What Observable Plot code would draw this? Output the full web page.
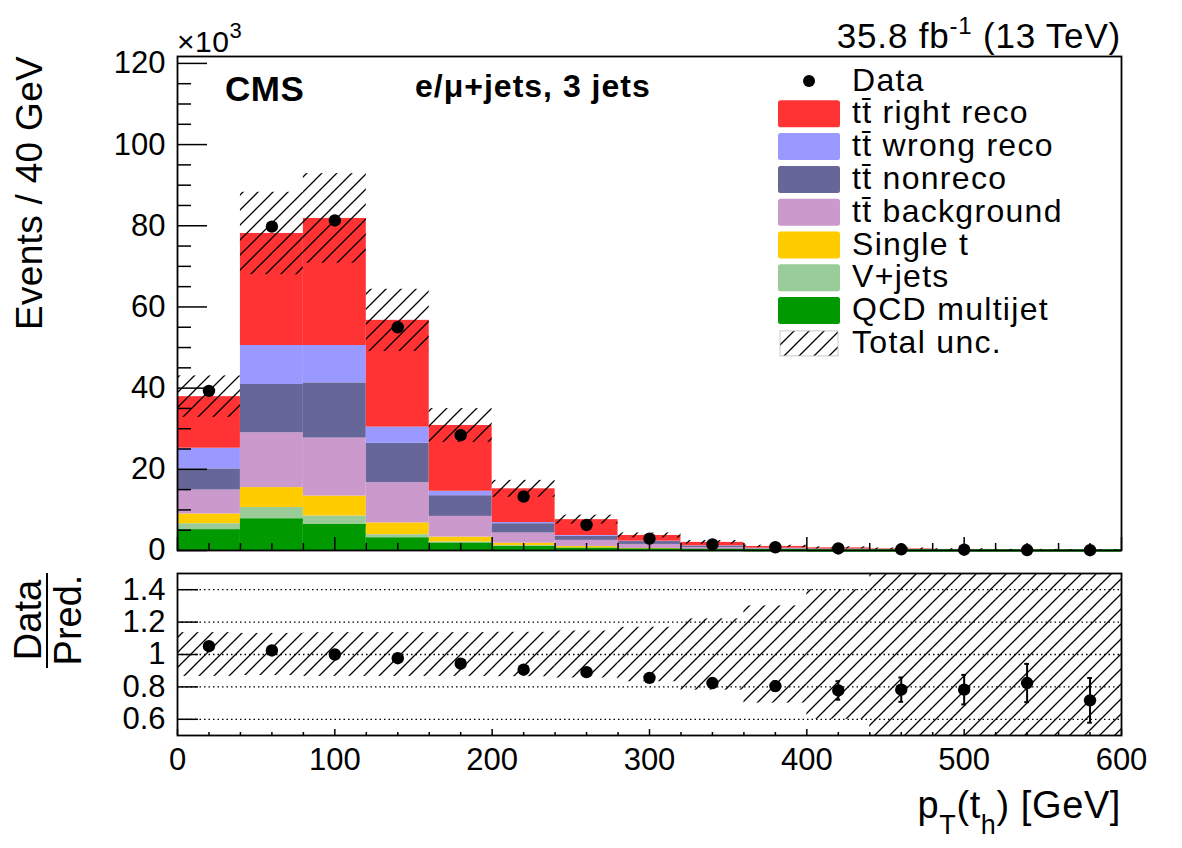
<!DOCTYPE html>
<html>
<head>
<meta charset="utf-8">
<script src="https://cdn.jsdelivr.net/npm/d3@7"></script>
<script src="https://cdn.jsdelivr.net/npm/@observablehq/plot@0.6"></script>
<style>
  html, body { margin: 0; padding: 0; background: #fff; overflow: hidden; }
  #wrap { position: relative; width: 1182px; height: 848px; }
  #wrap svg { position: absolute; left: 0; overflow: visible; }
</style>
</head>
<body>
<div id="wrap"></div>
<script>
// ---------------- data (values in thousands of events) ----------------
const binLow = [0, 40, 80, 120, 160, 200, 240, 280, 320, 360, 400, 440, 480, 520, 560];
const binWidth = 40;

const qcd       = [4.9, 7.6, 6.2, 2.9, 1.6, 0.8, 0.4, 0.2, 0.1, 0.05, 0.03, 0.02, 0.01, 0.01, 0.005];
const vjets     = [1.7, 3.0, 2.3, 1.0, 0.5, 0.4, 0.2, 0.1, 0.05, 0.03, 0.02, 0.01, 0.01, 0.005, 0.005];
const singleT   = [2.4, 4.9, 4.9, 2.9, 1.2, 0.6, 0.4, 0.2, 0.1, 0.05, 0.03, 0.02, 0.01, 0.01, 0.005];
const ttBkg     = [5.9, 13.5, 14.3, 9.9, 5.1, 2.5, 1.5, 1.0, 0.5, 0.25, 0.16, 0.09, 0.06, 0.035, 0.025];
const ttNonreco = [5.2, 11.9, 13.6, 9.7, 5.1, 2.3, 1.0, 0.7, 0.35, 0.17, 0.11, 0.07, 0.05, 0.03, 0.02];
const ttWrong   = [5.1, 9.6, 9.2, 4.0, 1.1, 0.3, 0.2, 0.1, 0.05, 0.03, 0.02, 0.01, 0.01, 0.005, 0.005];
const ttRight   = [12.7, 27.6, 31.3, 26.3, 16.2, 8.3, 3.9, 1.4, 0.85, 0.42, 0.28, 0.16, 0.11, 0.06, 0.045];

const dataVals  = [39.3, 79.8, 81.3, 55.0, 28.4, 13.3, 6.3, 2.9, 1.5, 0.8, 0.5, 0.3, 0.2, 0.12, 0.08];
const ratioVals = [1.051, 1.025, 1.0, 0.977, 0.943, 0.906, 0.891, 0.856, 0.824, 0.805, 0.778, 0.783, 0.783, 0.824, 0.717];
const ratioErr  = [0.005, 0.004, 0.004, 0.005, 0.007, 0.01, 0.014, 0.02, 0.025, 0.03, 0.057, 0.075, 0.091, 0.118, 0.138];
const relUnc    = [0.135, 0.13, 0.135, 0.135, 0.135, 0.137, 0.145, 0.168, 0.22, 0.30, 0.40, 0.6, 0.7, 0.8, 0.9];

const compNames  = ["QCD multijet", "V+jets", "Single t", "tt\u0304 background", "tt\u0304 nonreco", "tt\u0304 wrong reco", "tt\u0304 right reco"];
const compColors = ["#009900", "#99cc99", "#ffcc00", "#cc99cc", "#666699", "#9999ff", "#ff3333"];
const compValues = [qcd, vjets, singleT, ttBkg, ttNonreco, ttWrong, ttRight];

const xMajorTicks = [0, 100, 200, 300, 400, 500, 600];
const yTopTicks = [0, 20, 40, 60, 80, 100, 120];
const yRatioTicks = [0.6, 0.8, 1, 1.2, 1.4];

(function () {
// ---------------- derived tables ----------------
const rows = [];
binLow.forEach((lo, i) => {
  let acc = 0;
  compNames.forEach((name, j) => {
    const v = compValues[j][i];
    rows.push({lo, hi: lo + binWidth, comp: name, y1: acc, y2: acc + v});
    acc += v;
  });
});
const qcdRows = rows.filter(r => r.comp === compNames[0]);
const bins = binLow.map((lo, i) => ({
  lo, hi: lo + binWidth, c: lo + binWidth / 2,
  data: dataVals[i], total: d3.sum(compValues, a => a[i]),
  ratio: ratioVals[i], err: ratioErr[i], unc: relUnc[i]
}));

const fontFam = '"Liberation Sans", Arial, Helvetica, sans-serif';
const W = 1182, mL = 177, mR = 61;
const innerW = W - mL - mR;
const xMinorTicks = d3.range(0, 601, 20).filter(v => v % 100 !== 0);
const yMinorTicks = d3.range(0, 121, 5).filter(v => v % 20 !== 0);

function addHatch(svg, id) {
  const p = d3.select(svg).insert("defs", ":first-child")
    .append("pattern").attr("id", id)
    .attr("patternUnits", "userSpaceOnUse").attr("width", 15).attr("height", 15);
  p.append("path").attr("d", "M-2,2 L2,-2 M0,15 L15,0 M13,17 L17,13")
    .attr("stroke", "black").attr("stroke-width", 1.3).attr("fill", "none");
}

// ---------------- top panel ----------------
const topH = 560, tMT = 56, tMB = 10;
const topInnerH = topH - tMT - tMB;
const topPlot = Plot.plot({
  width: W, height: topH, marginTop: tMT, marginBottom: tMB, marginLeft: mL, marginRight: mR,
  style: {fontFamily: fontFam, fontSize: "31px", background: "transparent", color: "black"},
  x: {domain: [0, 600], axis: null},
  y: {domain: [0, 121.7]},
  color: {domain: compNames, range: compColors},
  marks: [
    Plot.rect(rows, {x1: "lo", x2: "hi", y1: "y1", y2: "y2", fill: "comp"}),
    Plot.ruleY(qcdRows, {y: "y2", x1: "lo", x2: "hi", stroke: compColors[0], strokeWidth: 2.5}),
    Plot.rect(bins, {x1: "lo", x2: "hi", y1: d => d.total * (1 - d.unc), y2: d => d.total * (1 + d.unc), fill: "url(#hatchTop)"}),
    Plot.dot(bins, {x: "c", y: "data", r: 6.2, fill: "black", stroke: "none"}),
    Plot.tickX(xMajorTicks, {x: d => d, insetTop: topInnerH - 13, strokeWidth: 1.5}),
    Plot.tickX(xMinorTicks, {x: d => d, insetTop: topInnerH - 7, strokeWidth: 1.5}),
    Plot.tickY(yTopTicks, {y: d => d, insetRight: innerW - 30, strokeWidth: 1.5}),
    Plot.tickY(yMinorTicks, {y: d => d, insetRight: innerW - 14, strokeWidth: 1.5}),
    Plot.axisY({ticks: yTopTicks, tickSize: 0, tickPadding: 12, label: null, fontSize: 31, tickFormat: d => String(d)}),
    Plot.frame({stroke: "black", strokeWidth: 1.8})
  ]
});
topPlot.style.top = "0px";
addHatch(topPlot, "hatchTop");

const tg = d3.select(topPlot).append("g").attr("font-family", fontFam).attr("fill", "black").attr("text-anchor", "start");
const mult = tg.append("text").attr("x", 177).attr("y", 52).attr("font-size", 30).attr("letter-spacing", 0.5);
mult.append("tspan").text("\u00d710");
mult.append("tspan").attr("dy", -14).attr("font-size", 22).text("3");
const lumi = tg.append("text").attr("x", 1121).attr("y", 48).attr("text-anchor", "end").attr("font-size", 35).attr("letter-spacing", 0.8);
lumi.append("tspan").text("35.8 fb");
lumi.append("tspan").attr("dy", -14).attr("font-size", 24).text("-1");
lumi.append("tspan").attr("dy", 14).text(" (13 TeV)");
tg.append("text").attr("x", 225).attr("y", 101).attr("font-size", 35).attr("font-weight", "bold").attr("letter-spacing", 0.5).text("CMS");
tg.append("text").attr("x", 415).attr("y", 97).attr("font-size", 32).attr("font-weight", "bold").attr("letter-spacing", 1).text("e/\u03bc+jets, 3 jets");
tg.append("text").attr("transform", "translate(42,56) rotate(-90)").attr("text-anchor", "end")
  .attr("font-size", 37).attr("letter-spacing", 0.3).text("Events / 40 GeV");
const legY0 = 81, legDY = 32.8;
const legItems = [{label: "Data", type: "dot"}]
  .concat(compNames.map((n, j) => ({label: n, type: "box", color: compColors[j]})).reverse())
  .concat([{label: "Total unc.", type: "hatch"}]);
legItems.forEach((it, i) => {
  const cy = legY0 + i * legDY;
  if (it.type === "dot") tg.append("circle").attr("cx", 809).attr("cy", cy).attr("r", 6);
  else if (it.type === "box") tg.append("rect").attr("x", 778).attr("y", cy - 13.5).attr("width", 62).attr("height", 27).attr("rx", 2.5).attr("fill", it.color);
  else tg.append("rect").attr("x", 780).attr("y", cy - 12.5).attr("width", 58).attr("height", 25).attr("fill", "url(#hatchTop)").attr("stroke", "#bbb").attr("stroke-width", 0.8);
  tg.append("text").attr("x", 852).attr("y", cy + 9.5).attr("font-size", 32).attr("letter-spacing", 1.3).text(it.label);
});
document.getElementById("wrap").appendChild(topPlot);

// ---------------- ratio panel ----------------
const rTopPx = 560, rH = 288, rMT = 13, rMB = 113;
const rInnerH = rH - rMT - rMB;
const ratioPlot = Plot.plot({
  width: W, height: rH, marginTop: rMT, marginBottom: rMB, marginLeft: mL, marginRight: mR,
  style: {fontFamily: fontFam, fontSize: "31px", background: "transparent", color: "black"},
  x: {domain: [0, 600]},
  y: {domain: [0.5, 1.5]},
  marks: [
    Plot.rect(bins, {x1: "lo", x2: "hi",
      y1: d => Math.max(0.5, 1 - d.unc), y2: d => Math.min(1.5, 1 + d.unc), fill: "url(#hatchRatio)"}),
    Plot.ruleY(yRatioTicks, {y: d => d, stroke: "black", strokeWidth: 1.3, strokeDasharray: "1.5,3"}),
    Plot.ruleX(bins, {x: "c", y1: d => d.ratio - d.err, y2: d => d.ratio + d.err, strokeWidth: 2}),
    Plot.ruleY(bins, {y: d => d.ratio - d.err, x1: d => d.c - 1.5, x2: d => d.c + 1.5, strokeWidth: 2}),
    Plot.ruleY(bins, {y: d => d.ratio + d.err, x1: d => d.c - 1.5, x2: d => d.c + 1.5, strokeWidth: 2}),
    Plot.dot(bins, {x: "c", y: "ratio", r: 6.2, fill: "black", stroke: "none"}),
    Plot.tickX(xMajorTicks, {x: d => d, insetTop: rInnerH - 6, strokeWidth: 1.5}),
    Plot.tickX(xMinorTicks, {x: d => d, insetTop: rInnerH - 3, strokeWidth: 1.5}),
    Plot.tickY(yRatioTicks, {y: d => d, insetRight: innerW - 21, strokeWidth: 1.5}),
    Plot.axisY({ticks: yRatioTicks, tickSize: 0, tickPadding: 12, label: null, fontSize: 31, tickFormat: d => String(d)}),
    Plot.axisX({ticks: xMajorTicks, tickSize: 0, tickPadding: 12, label: null, fontSize: 31, tickFormat: d => String(d)}),
    Plot.frame({stroke: "black", strokeWidth: 1.8})
  ]
});
ratioPlot.style.top = rTopPx + "px";
addHatch(ratioPlot, "hatchRatio");

const rg = d3.select(ratioPlot).append("g").attr("font-family", fontFam).attr("fill", "black");
const fracC = 620 - rTopPx;
rg.append("text").attr("transform", `translate(41,${fracC}) rotate(-90)`).attr("text-anchor", "middle").attr("font-size", 38).text("Data");
rg.append("line").attr("x1", 47).attr("x2", 47).attr("y1", 573 - rTopPx).attr("y2", 668 - rTopPx).attr("stroke", "black").attr("stroke-width", 2);
rg.append("text").attr("transform", `translate(81,${fracC}) rotate(-90)`).attr("text-anchor", "middle").attr("font-size", 38).text("Pred.");
const xt = rg.append("text").attr("x", 1121).attr("y", 818 - rTopPx).attr("text-anchor", "end").attr("font-size", 38).attr("letter-spacing", 0.6);
xt.append("tspan").text("p");
xt.append("tspan").attr("dy", 16).attr("font-size", 27).text("T");
xt.append("tspan").attr("dy", -16).text("(t");
xt.append("tspan").attr("dy", 16).attr("font-size", 27).text("h");
xt.append("tspan").attr("dy", -16).text(") [GeV]");
document.getElementById("wrap").appendChild(ratioPlot);
})();
</script>
</body>
</html>
